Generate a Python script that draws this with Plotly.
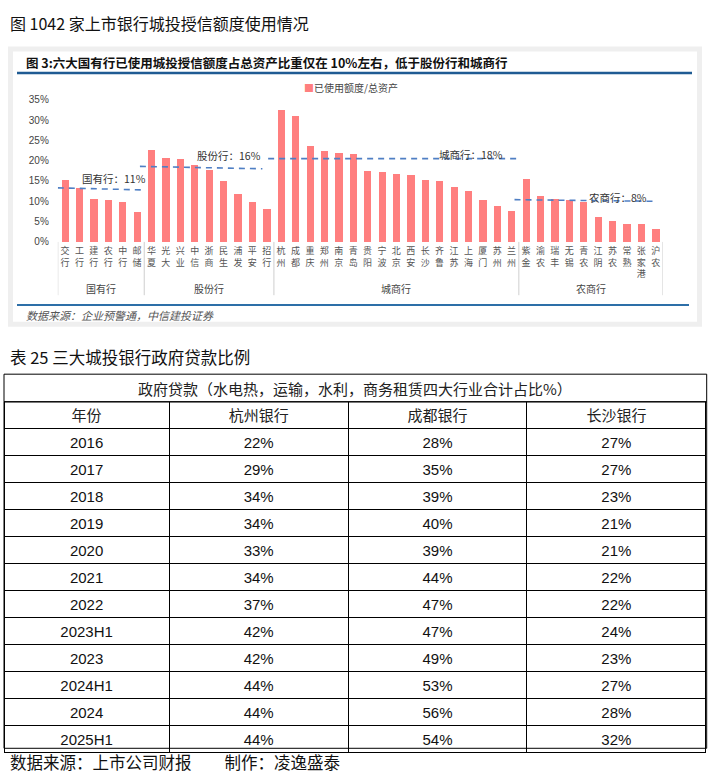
import plotly.graph_objects as go

# ---------------- data: bar chart ----------------
group_names = ["国有行", "股份行", "城商行", "农商行"]
group_banks = [
    ["交行", "工行", "建行", "农行", "中行", "邮储"],
    ["华夏", "光大", "兴业", "中信", "浙商", "民生", "浦发", "平安", "招行"],
    ["杭州", "成都", "重庆", "郑州", "南京", "青岛", "贵阳", "宁波", "北京", "西安",
     "长沙", "齐鲁", "江苏", "上海", "厦门", "苏州", "兰州"],
    ["紫金", "渝农", "瑞丰", "无锡", "青农", "江阴", "苏农", "常熟", "张家港", "沪农"],
]
group_values = [
    [15.4, 13.3, 10.6, 10.5, 10.0, 7.5],
    [22.7, 20.7, 20.5, 19.0, 17.8, 15.0, 11.9, 9.9, 8.1],
    [32.6, 31.0, 23.6, 22.5, 22.0, 21.8, 17.5, 17.2, 16.8, 16.5,
     15.3, 15.0, 13.5, 12.6, 10.3, 8.8, 7.7],
    [15.5, 11.3, 10.6, 10.3, 10.0, 6.2, 5.3, 4.4, 4.4, 3.2],
]
series_name = "已使用额度/总资产"
y_ticks = [0, 5, 10, 15, 20, 25, 30, 35]

avg_labels = ["国有行：11%", "股份行：16%", "城商行：18%", "农商行：8%"]
avg_line_x0 = [-0.5, 5.2, 14.1, 31.2]
avg_line_x1 = [5.5, 13.7, 31.6, 41.0]
avg_line_y0 = [13.3, 18.6, 20.5, 10.4]
avg_line_y1 = [12.8, 18.0, 20.5, 10.0]
avg_label_x = [3.4, 11.4, 28.2, 38.4]
avg_label_y = [15.6, 21.2, 21.5, 11.0]

# ---------------- data: table ----------------
table_group_header = "政府贷款（水电热，运输，水利，商务租赁四大行业合计占比%）"
table_columns = ["年份", "杭州银行", "成都银行", "长沙银行"]
years = ["2016", "2017", "2018", "2019", "2020", "2021", "2022", "2023H1",
         "2023", "2024H1", "2024", "2025H1"]
hangzhou = ["22%", "29%", "34%", "34%", "33%", "34%", "37%", "42%", "42%", "44%", "44%", "44%"]
chengdu = ["28%", "35%", "39%", "40%", "39%", "44%", "47%", "47%", "49%", "53%", "56%", "54%"]
changsha = ["27%", "27%", "23%", "21%", "21%", "22%", "22%", "24%", "23%", "27%", "28%", "32%"]

# ---------------- helpers ----------------
W, H = 712, 776


def px(x):
    return x / W


def py(y):
    return 1 - y / H


CJK = "Noto Sans CJK SC"
banks = [b for g in group_banks for b in g]
values = [v for g in group_values for v in g]
idx = list(range(len(banks)))
ticktext = ["<br>".join(list(b)) for b in banks]

fig = go.Figure()

# panel frame
shapes = [
    dict(type="rect", xref="paper", yref="paper", x0=px(8), x1=px(702), y0=py(326), y1=py(42),
         fillcolor="#efefef", line=dict(width=0), layer="below"),
    dict(type="rect", xref="paper", yref="paper", x0=px(13), x1=px(697), y0=py(321), y1=py(47),
         fillcolor="white", line=dict(width=0), layer="below"),
    dict(type="line", xref="paper", yref="paper", x0=px(17), x1=px(692), y0=py(69), y1=py(69),
         line=dict(color="#1f5b93", width=2.5)),
    dict(type="line", xref="paper", yref="paper", x0=px(17), x1=px(689), y0=py(304), y1=py(304),
         line=dict(color="#2d6fa8", width=2)),
]

# group separators
bounds = [-0.5]
for g in group_banks:
    bounds.append(bounds[-1] + len(g))
for b in bounds:
    shapes.append(dict(type="line", xref="x", yref="paper", x0=b, x1=b, y0=py(294), y1=py(240),
                       line=dict(color="#cfcfcf", width=1)))

fig.add_trace(go.Bar(x=idx, y=values, width=0.5, marker=dict(color="#ff7f7f", line=dict(width=0)),
                     name=series_name, showlegend=False))

for i in range(len(avg_labels)):
    fig.add_trace(go.Scatter(x=[avg_line_x0[i], avg_line_x1[i]], y=[avg_line_y0[i], avg_line_y1[i]],
                             mode="lines", line=dict(color="#4f7fc4", width=1.6, dash="6px,5px"),
                             showlegend=False, hoverinfo="skip"))

annotations = []
# titles
annotations.append(dict(text="图 1042 家上市银行城投授信额度使用情况", xref="paper", yref="paper",
                        x=px(8), y=py(18), xanchor="left", yanchor="middle", showarrow=False,
                        font=dict(family=CJK, size=16, color="#111")))
annotations.append(dict(text="<b>图 3:六大国有行已使用城投授信额度占总资产比重仅在 10%左右，低于股份行和城商行</b>",
                        xref="paper", yref="paper", x=px(24), y=py(58), xanchor="left", yanchor="middle",
                        showarrow=False, font=dict(family=CJK, size=12.5, color="#111")))
annotations.append(dict(text="<span style='color:#ff7f7f'>■</span>" + series_name, xref="paper", yref="paper",
                        x=px(302), y=py(84), xanchor="left", yanchor="middle", showarrow=False,
                        font=dict(family=CJK, size=10, color="#444")))
annotations.append(dict(text="<i>数据来源：企业预警通，中信建投证券</i>", xref="paper", yref="paper",
                        x=px(24), y=py(314), xanchor="left", yanchor="middle", showarrow=False,
                        font=dict(family=CJK, size=11, color="#555")))
# average labels
for i in range(len(avg_labels)):
    annotations.append(dict(text=avg_labels[i], xref="x", yref="y", x=avg_label_x[i], y=avg_label_y[i],
                            xanchor="center", yanchor="middle", showarrow=False,
                            font=dict(family=CJK, size=10.5, color="#333")))
# group labels
for gi, g in enumerate(group_names):
    center = (bounds[gi] + bounds[gi + 1]) / 2
    annotations.append(dict(text=g, xref="x", yref="paper", x=center, y=py(287), xanchor="center",
                            yanchor="middle", showarrow=False, font=dict(family=CJK, size=10, color="#444")))

# ---------------- table ----------------
tx0, tx1 = px(4), px(706.7)
header_top, header_h, row_h = 402, 27, 27
shapes.append(dict(type="rect", xref="paper", yref="paper", x0=tx0, x1=tx1, y0=py(header_top), y1=py(374),
                   line=dict(color="black", width=1), fillcolor="white"))
annotations.append(dict(text="表 25 三大城投银行政府贷款比例", xref="paper", yref="paper", x=px(8), y=py(357),
                        xanchor="left", yanchor="middle", showarrow=False,
                        font=dict(family=CJK, size=16.5, color="#111")))
annotations.append(dict(text=table_group_header, xref="paper", yref="paper", x=(tx0 + tx1) / 2, y=py(388),
                        xanchor="center", yanchor="middle", showarrow=False,
                        font=dict(family=CJK, size=15, color="#222")))
annotations.append(dict(text="数据来源：上市公司财报　　制作：凌逸盛泰", xref="paper", yref="paper", x=px(8),
                        y=py(767), xanchor="left", yanchor="middle", showarrow=False,
                        font=dict(family=CJK, size=16.5, color="#111")))

num_font = dict(family="Liberation Sans, Arial", size=15, color="#111")
fig.add_trace(go.Table(
    domain=dict(x=[tx0, tx1], y=[py(760), py(header_top)]),
    columnwidth=[165.3, 179.2, 178.8, 179.4],
    header=dict(values=table_columns, height=header_h, align="center", fill_color="white",
                line=dict(color="black", width=1), font=dict(family=CJK, size=15, color="#222")),
    cells=dict(values=[years, hangzhou, chengdu, changsha], height=row_h, align="center",
               fill_color="white", line=dict(color="black", width=1), font=num_font),
))
table_bottom = header_top + header_h + row_h * len(years)
# outer border of the table body
shapes.append(dict(type="rect", xref="paper", yref="paper", x0=tx0, x1=tx1, y0=py(table_bottom),
                   y1=py(header_top), line=dict(color="black", width=1), fillcolor="rgba(0,0,0,0)",
                   layer="above"))

fig.update_layout(
    width=W, height=H, margin=dict(l=0, r=0, t=0, b=0),
    paper_bgcolor="white", plot_bgcolor="rgba(0,0,0,0)",
    shapes=shapes, annotations=annotations, showlegend=False, bargap=0,
    xaxis=dict(domain=[px(57.8), px(662.9)], range=[-0.5, 41.5], tickmode="array", tickvals=idx,
               ticktext=ticktext, showgrid=False, zeroline=False, showline=False, ticks="",
               ticklabelstandoff=2, tickfont=dict(family=CJK, size=9, color="#555"), fixedrange=True),
    yaxis=dict(domain=[py(240), py(96)], range=[0, 35], tickmode="array", tickvals=y_ticks,
               ticktext=[f"{v}%" for v in y_ticks], showgrid=False, zeroline=False, showline=False,
               ticks="", ticklabelstandoff=8,
               tickfont=dict(family="Liberation Sans, Arial", size=10, color="#444"), fixedrange=True),
)

fig.write_html("out.html", config={"displayModeBar": False},
               post_script="document.body.style.margin='0px';document.body.style.overflow='hidden';")
